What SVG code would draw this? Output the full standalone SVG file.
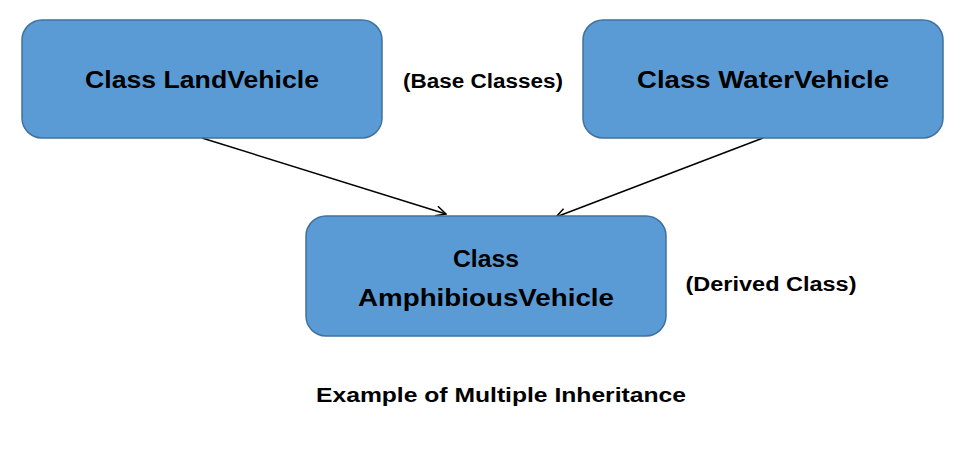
<svg xmlns="http://www.w3.org/2000/svg" width="975" height="466" viewBox="0 0 975 466">
<style>
.box{fill:#5b9bd5;stroke:#41719c;stroke-width:1.5}
.t{font-family:"Liberation Sans",Arial,sans-serif;font-weight:bold;fill:#000;text-anchor:middle}
.big{font-size:24px}
.small{font-size:20px}
.edge{stroke:#000;stroke-width:1.5;fill:none;marker-end:url(#arr)}
</style>
<defs>
<marker id="arr" viewBox="0 0 12 12" refX="11" refY="6" markerWidth="12" markerHeight="12" markerUnits="userSpaceOnUse" orient="auto">
<path d="M1,1 L11,6 L1,11" fill="none" stroke="#000" stroke-width="1.5"/>
</marker>
</defs>
<rect width="975" height="466" fill="#fff"/>
<g id="connectors">
<line class="edge" x1="202" y1="138" x2="446" y2="214"/>
<line class="edge" x1="763" y1="138" x2="556" y2="217"/>
</g>
<g id="land">
<rect class="box" x="22" y="20" width="360" height="118" rx="20"/>
<text class="t big" x="202" y="88" textLength="234" lengthAdjust="spacingAndGlyphs">Class LandVehicle</text>
</g>
<g id="water">
<rect class="box" x="583" y="20" width="360" height="118" rx="20"/>
<text class="t big" x="763" y="88" textLength="252" lengthAdjust="spacingAndGlyphs">Class WaterVehicle</text>
</g>
<g id="amphibious">
<rect class="box" x="306" y="216" width="360" height="120" rx="20"/>
<text class="t big" x="486" y="267" textLength="66" lengthAdjust="spacingAndGlyphs">Class</text>
<text class="t big" x="486" y="306" textLength="256" lengthAdjust="spacingAndGlyphs">AmphibiousVehicle</text>
</g>
<g id="labels">
<text class="t small" x="483" y="88" textLength="160" lengthAdjust="spacingAndGlyphs">(Base Classes)</text>
<text class="t small" x="771" y="291" textLength="171" lengthAdjust="spacingAndGlyphs">(Derived Class)</text>
<text class="t small" x="501" y="402" textLength="370" lengthAdjust="spacingAndGlyphs">Example of Multiple Inheritance</text>
</g>
</svg>
